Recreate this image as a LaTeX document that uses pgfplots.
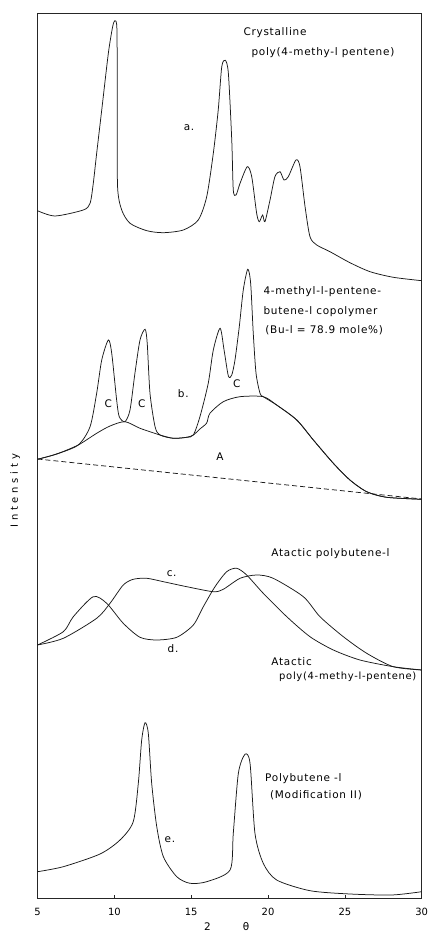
\documentclass[border=0pt]{standalone}
\usepackage{pgfplots}
\pgfplotsset{compat=1.18}
\usepackage{fontspec}
\setmainfont{DejaVu Sans}
\newfontfamily\labfont{DejaVu Sans}[LetterSpace=7]
\newfontfamily\ylabfont{DejaVu Sans}[LetterSpace=38]
\newcommand{\lab}{\labfont\fontsize{10.5}{12}\selectfont}

\begin{document}
\begin{tikzpicture}
\begin{axis}[
  scale only axis, width=384.2bp, height=885bp,
  xmin=5, xmax=30, ymin=0, ymax=885,
  xtick={5,10,...,30}, ytick=\empty,
  tick align=inside, xtick pos=bottom, major tick length=2.5bp,
  axis line style={line width=0.7bp, black!85},
  tick style={line width=0.7bp, black!85},
  /pgf/number format/assume math mode=true,
  xticklabel style={yshift=-7bp, font=\fontsize{10}{12}\selectfont},
  xlabel={2\hspace{32bp}θ},
  xlabel style={at={(axis description cs:0.4925,0)}, anchor=center, yshift=-29bp, font=\fontsize{10.5}{12}\selectfont},
  ylabel={Intensity},
  ylabel style={at={(axis description cs:-0.058,0.46)}, anchor=center, font=\ylabfont\fontsize{10}{12}\selectfont},
  curve/.style={line width=0.75bp, black!90, smooth, tension=0.45, mark=none},
]
% (a) crystalline poly(4-methyl-1-pentene)
\addplot[curve] table {
5.00 687.3
6.14 682.0
7.98 688.0
8.42 694.7
8.63 714.7
8.85 744.7
9.18 788.0
9.61 844.7
9.89 871.3
10.04 877.3
10.17 868.0
10.19 788.0
10.21 711.3
10.48 688.0
11.02 674.7
12.11 667.3
13.19 665.3
14.49 668.0
15.46 678.0
16.01 701.3
16.44 744.7
16.76 788.0
16.99 831.3
17.22 837.7
17.42 824.7
17.64 758.0
17.74 708.0
17.92 703.0
18.18 714.7
18.65 731.3
18.94 721.3
19.26 684.7
19.43 676.3
19.65 683.0
19.80 676.3
20.13 698.0
20.45 721.3
20.78 726.3
21.04 718.0
21.32 721.3
21.82 738.0
22.08 731.3
22.41 691.3
22.73 661.3
23.17 653.0
24.03 646.3
25.33 635.3
26.64 626.3
28.15 620.7
30.00 617.3
};
% (b) copolymer, total scattering
\addplot[curve] table {
5.00 438.7
6.25 444.0
7.65 453.0
8.42 471.3
8.85 504.7
9.18 538.0
9.61 558.0
9.83 544.7
10.15 498.0
10.32 481.3
10.69 476.3
11.02 488.0
11.34 524.7
11.67 558.0
12.00 568.7
12.14 554.7
12.32 504.7
12.65 471.3
12.97 463.0
13.84 459.7
14.71 460.7
15.14 463.0
15.57 481.3
16.11 514.7
16.44 548.0
16.88 569.7
17.14 548.0
17.42 522.0
17.64 523.0
17.85 538.0
18.13 571.3
18.39 608.0
18.68 628.7
18.87 614.7
19.04 564.7
19.22 524.7
19.48 504.7
19.69 501.3
20.56 493.0
21.87 478.0
22.95 458.0
24.25 434.7
25.33 418.0
26.42 406.3
27.72 400.7
30.00 398.7
};
% (b) amorphous halo A
\addplot[curve] table {
5.00 438.7
6.25 444.0
7.65 453.0
8.85 464.7
9.72 472.0
10.69 476.3
11.67 469.7
12.97 463.0
13.84 459.7
14.71 460.7
15.14 463.0
15.57 469.0
16.01 475.0
16.22 484.7
17.09 496.3
18.18 501.3
19.69 501.3
20.56 493.0
21.87 478.0
22.95 458.0
24.25 434.7
25.33 418.0
26.42 406.3
27.72 400.7
30.00 398.7
};
% (b) background line
\addplot[line width=0.75bp, black!90, dash pattern=on 5bp off 3bp] table {
5.00 439.0
30.00 399.0
};
% (c) atactic polybutene-1
\addplot[curve] table {
5.00 253.0
6.68 259.7
8.85 279.7
9.72 294.7
10.58 313.0
11.23 318.7
12.11 319.7
13.19 316.3
14.71 311.3
16.44 306.3
17.09 308.7
18.18 319.7
19.26 323.0
20.34 319.7
22.30 301.3
23.38 281.3
24.90 261.3
26.42 244.7
28.15 231.3
30.00 228.0
};
% (d) atactic poly(4-methyl-1-pentene)
\addplot[curve] table {
5.00 253.0
6.68 266.3
7.33 281.3
8.63 301.3
9.50 294.7
10.58 274.7
11.67 260.7
12.76 258.0
14.06 260.7
15.14 273.0
15.79 291.3
16.55 311.3
17.31 326.3
17.96 329.7
18.61 323.0
19.69 304.7
21.22 281.3
22.73 261.3
24.25 248.0
25.98 238.0
28.15 231.3
30.00 228.0
};
% (e) polybutene-1, modification II
\addplot[curve] table {
5.00 26.3
6.68 31.3
9.07 44.0
10.37 58.0
11.23 76.3
11.56 114.7
11.78 158.0
12.00 175.3
12.21 164.7
12.43 114.7
12.76 71.3
13.19 41.3
14.06 21.3
14.92 14.7
16.01 16.3
17.53 28.0
17.74 64.7
18.07 124.7
18.50 143.7
18.83 134.7
19.15 64.7
19.69 34.7
20.56 18.0
22.73 7.3
25.33 4.0
28.05 3.0
30.00 6.3
};
% curve labels
\node[anchor=west] at (axis cs:18.18,865) {\lab Crystalline};
\node[anchor=west] at (axis cs:18.70,845) {\lab poly(4-methy-l pentene)};
\node at (axis cs:14.86,770) {\lab a.};
\node[anchor=west] at (axis cs:19.48,606.3) {\lab 4-methyl-l-pentene-};
\node[anchor=west] at (axis cs:19.48,586.3) {\lab butene-l copolymer};
\node[anchor=west] at (axis cs:19.60,568) {\lab (Bu-l = 78.9 mole\%)};
\node at (axis cs:9.61,494.7) {\lab C};
\node at (axis cs:11.78,494.7) {\lab C};
\node at (axis cs:17.96,514) {\lab C};
\node at (axis cs:14.49,504.7) {\lab b.};
\node at (axis cs:16.88,441.3) {\lab A};
\node[anchor=west] at (axis cs:19.99,344.7) {\lab Atactic polybutene-l};
\node at (axis cs:13.73,324.7) {\lab c.};
\node at (axis cs:13.82,249.7) {\lab d.};
\node[anchor=west] at (axis cs:19.99,236.3) {\lab Atactic};
\node[anchor=west,inner xsep=1bp] at (axis cs:20.65,221.3) {\labfont\fontsize{10}{12}\selectfont poly(4-methy-l-pentene)};
\node[anchor=west] at (axis cs:19.59,119.7) {\lab Polybutene -l};
\node[anchor=west] at (axis cs:19.91,103) {\lab (Modification II)};
\node at (axis cs:13.62,58) {\lab e.};
\end{axis}
\pgfresetboundingbox
\path ([xshift=-37.5bp,yshift=-36bp]current axis.south west) rectangle ([xshift=8.3bp,yshift=13bp]current axis.north east);
\end{tikzpicture}
\end{document}
